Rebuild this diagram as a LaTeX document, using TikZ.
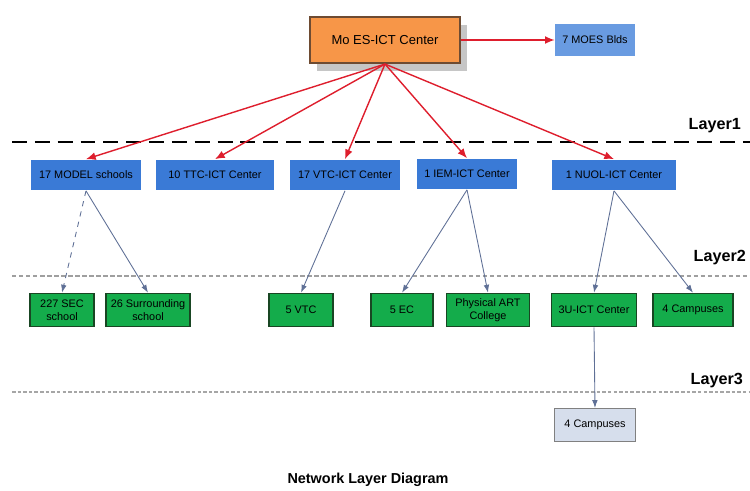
\documentclass[tikz,border=0pt]{standalone}
\usepackage{fontspec}
\setmainfont{Liberation Sans}
\usepackage{tikz}
\usetikzlibrary{arrows.meta, shadows}

\definecolor{centerorange}{RGB}{247,150,72}
\definecolor{centerborder}{RGB}{110,75,50}
\definecolor{boxblue}{RGB}{58,122,214}
\definecolor{lightblue}{RGB}{105,155,225}
\definecolor{boxgreen}{RGB}{20,172,75}
\definecolor{greenborder}{RGB}{25,70,35}
\definecolor{campusgrey}{RGB}{214,222,236}
\definecolor{linkred}{RGB}{222,30,45}
\definecolor{linkblue}{RGB}{95,112,150}

\begin{document}
\begin{tikzpicture}[x=0.02cm,y=-0.02cm,>=Latex,
  center/.style={rectangle,draw=centerborder,line width=1.2pt,fill=centerorange,minimum width=3cm,minimum height=0.92cm,font=\fontsize{7.4}{9}\selectfont,drop shadow={shadow xshift=0.14cm,shadow yshift=-0.16cm,fill=gray!45,opacity=1}},
  site/.style={rectangle,fill=boxblue,minimum height=0.62cm,inner sep=1pt,font=\fontsize{6.2}{7.5}\selectfont,align=center},
  bldg/.style={rectangle,fill=lightblue,minimum width=1.6cm,minimum height=0.64cm,font=\fontsize{6.2}{7.5}\selectfont},
  school/.style={rectangle,draw=greenborder,line width=0.9pt,fill=boxgreen,minimum height=0.66cm,inner sep=1pt,font=\fontsize{6.2}{7.2}\selectfont,align=center},
  campus/.style={rectangle,draw=gray,line width=0.6pt,fill=campusgrey,minimum width=1.62cm,minimum height=0.66cm,font=\fontsize{6.2}{7.5}\selectfont},
  redlink/.style={->,draw=linkred,line width=0.8pt,>={Latex[length=5.5pt,width=4.5pt]}},
  bluelink/.style={->,draw=linkblue,line width=0.5pt,>={Latex[length=4.5pt,width=3.2pt]}},
  layerlabel/.style={anchor=east,font=\fontsize{9.2}{11}\bfseries}]
\useasboundingbox (0,0) rectangle (750,490);

% layer lines
\draw[line width=1.3pt,dash pattern=on 8.5pt off 4.5pt] (12,142) -- (750,142);
\draw[gray!75,line width=0.6pt,dash pattern=on 2.5pt off 1.5pt] (12,276) -- (750,276);
\draw[gray!70,line width=0.6pt,dash pattern=on 2pt off 1.2pt] (12,392) -- (750,392);
\node[layerlabel] (lone) at (747,126) {Layer1};
\node[layerlabel] (ltwo) at (752,258) {Layer2};
\node[layerlabel] (lthree) at (749,381) {Layer3};

% top
\node[center] (top) at (385,40) {Mo ES-ICT Center};
\node[bldg] (moes) at (595,40) {7 MOES Blds};

% layer 1
\node[site,minimum width=2.22cm] (model) at (86,175) {17 MODEL schools};
\node[site,minimum width=2.36cm] (ttc) at (215,175) {10 TTC-ICT Center};
\node[site,minimum width=2.2cm] (vtc) at (345,175) {17 VTC-ICT Center};
\node[site,minimum width=2.0cm] (iem) at (467,174) {1 IEM-ICT Center};
\node[site,minimum width=2.5cm] (nuol) at (614,175) {1 NUOL-ICT Center};

% layer 2
\node[school,minimum width=1.28cm] (sec) at (62,310) {227 SEC\\school};
\node[school,minimum width=1.68cm] (surr) at (148,310) {26 Surrounding\\school};
\node[school,minimum width=1.28cm] (fivevtc) at (301,310) {5 VTC};
\node[school,minimum width=1.24cm] (ec) at (402,310) {5 EC};
\node[school,minimum width=1.66cm] (art) at (488,310) {Physical ART\\College};
\node[school,minimum width=1.7cm] (threeu) at (594,310) {3U-ICT Center};
\node[school,minimum width=1.6cm] (campa) at (693,310) {4 Campuses};

% layer 3
\node[campus] (campb) at (595,425) {4 Campuses};

% title
\node[font=\fontsize{8.2}{10}\bfseries] (title) at (368,480) {Network Layer Diagram};

\draw[redlink] (top.east)--(moes.west);
\draw[redlink] (top.south)--(model.north);
\draw[redlink] (top.south)--(ttc.north);
\draw[redlink] (top.south)--(vtc.north);
\draw[redlink] (top.south)--(iem.north);
\draw[redlink] (top.south)--(nuol.north);

\draw[bluelink,dashed] (model.south)--(sec.north);
\draw[bluelink] (model.south)--(surr.north);
\draw[bluelink] (vtc.south)--(fivevtc.north);
\draw[bluelink] (iem.south)--(ec.north);
\draw[bluelink] (iem.south)--(art.north);
\draw[bluelink] (nuol.south)--(threeu.north);
\draw[bluelink] (nuol.south)--(campa.north);
\draw[bluelink] (threeu.south)--(campb.north);
\end{tikzpicture}
\end{document}
